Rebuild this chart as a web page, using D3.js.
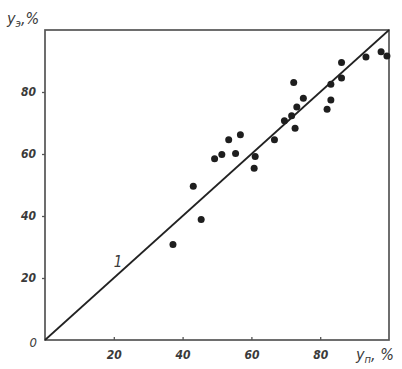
<!DOCTYPE html>
<html>
<head>
<meta charset="utf-8">
<script src="https://cdn.jsdelivr.net/npm/d3@7"></script>
<style>
  body { margin: 0; background: #fff; }
  text { font-family: "DejaVu Sans Condensed", "DejaVu Sans", sans-serif; font-style: italic; fill: #3a3a3a; }
</style>
</head>
<body>
<svg id="chart" width="402" height="369"></svg>
<script>
// measured (у_п) vs experimental (у_э), percent
const yp = [37.2, 43.1, 45.4, 49.3, 51.4, 53.4, 55.4, 56.8, 60.8, 61.1, 66.7, 69.6, 71.7, 72.3, 72.7, 73.2, 75.1, 82.0, 83.1, 83.1, 86.2, 86.2, 93.3, 97.7, 99.4];
const ye = [30.8, 49.6, 38.9, 58.5, 59.8, 64.6, 60.2, 66.2, 55.4, 59.2, 64.6, 70.7, 72.3, 83.1, 68.3, 75.2, 78.0, 74.4, 77.4, 82.5, 84.5, 89.5, 91.3, 93.0, 91.6];
const xTicks = [20, 40, 60, 80];
const yTicks = [20, 40, 60, 80];
const lineLabel = "1";

const svg = d3.select("#chart");
const x = d3.scaleLinear().domain([0, 100]).range([45, 389]);
const y = d3.scaleLinear().domain([0, 100]).range([340, 30]);

// frame
svg.append("rect")
  .attr("x", x(0)).attr("y", y(100))
  .attr("width", x(100) - x(0)).attr("height", y(0) - y(100))
  .attr("fill", "none").attr("stroke", "#555").attr("stroke-width", 1.7);

// x axis: short ticks pointing inward
const gx = svg.append("g").attr("transform", `translate(0,${y(0)})`)
  .call(d3.axisBottom(x).tickValues(xTicks).tickSize(-3).tickPadding(10));
gx.select(".domain").remove();
gx.selectAll("line").attr("stroke", "#555").attr("stroke-width", 1.3);
gx.selectAll("text").attr("font-size", 12).attr("font-weight", "bold").attr("fill", "#3a3a3a");

// y axis: short ticks pointing outward
const gy = svg.append("g").attr("transform", `translate(${x(0)},0)`)
  .call(d3.axisLeft(y).tickValues(yTicks).tickSize(3).tickPadding(6));
gy.select(".domain").remove();
gy.selectAll("line").attr("stroke", "#555").attr("stroke-width", 1.3);
gy.selectAll("text").attr("font-size", 12).attr("font-weight", "bold").attr("fill", "#3a3a3a");

// shared origin label
svg.append("text").attr("x", x(0) - 8).attr("y", y(0) + 7)
  .attr("text-anchor", "end").attr("font-size", 13).text("0");

// y = x line
svg.append("line")
  .attr("x1", x(0)).attr("y1", y(0)).attr("x2", x(100)).attr("y2", y(100))
  .attr("stroke", "#222").attr("stroke-width", 1.7);

svg.append("text").attr("x", x(20)).attr("y", y(23.5))
  .attr("font-size", 15).text(lineLabel);

// points
svg.selectAll("circle").data(yp).enter().append("circle")
  .attr("cx", d => x(d))
  .attr("cy", (d, i) => y(ye[i]))
  .attr("r", 3.5)
  .attr("fill", "#1e1e1e");

// axis titles
const ty = svg.append("text").attr("x", 7).attr("y", 24).attr("font-size", 16);
ty.append("tspan").text("у");
ty.append("tspan").attr("font-size", 11).attr("dy", 3).text("э");
ty.append("tspan").attr("dy", -3).text(",%");

const tx = svg.append("text").attr("x", 356).attr("y", 360).attr("font-size", 16);
tx.append("tspan").text("у");
tx.append("tspan").attr("font-size", 11).attr("dy", 3).text("п");
tx.append("tspan").attr("dy", -3).text(", %");
</script>
</body>
</html>
